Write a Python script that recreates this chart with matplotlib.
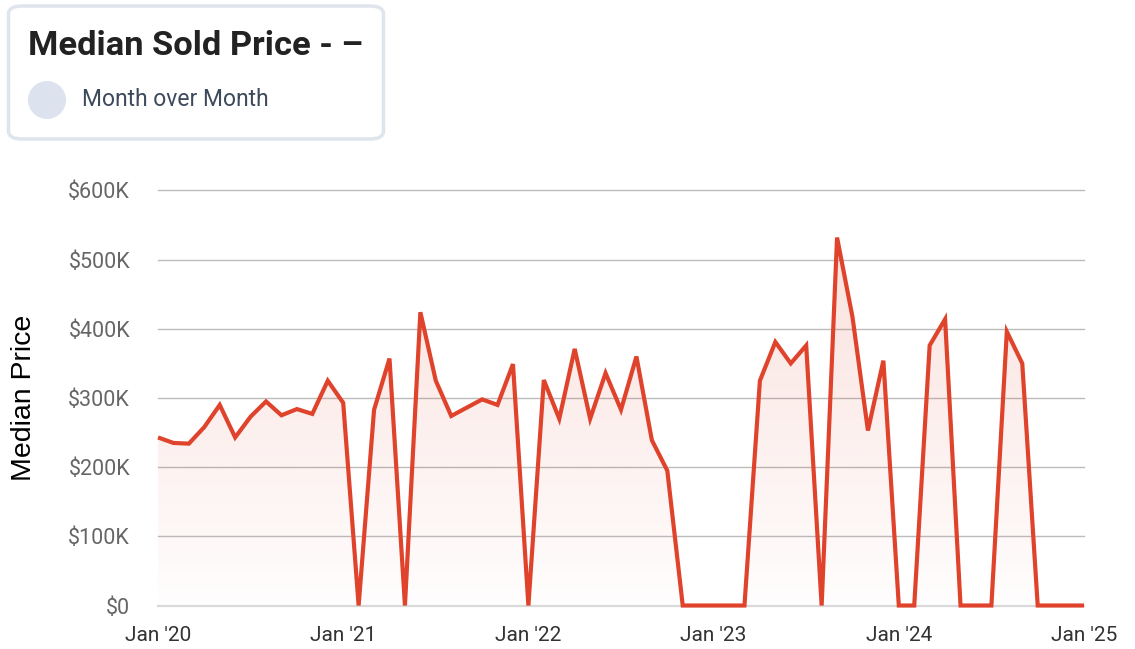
import matplotlib
matplotlib.use("Agg")
import numpy as np
import matplotlib.pyplot as plt
from matplotlib.patches import FancyBboxPatch, Circle

# monthly median sold price, Jan 2020 .. Jan 2025 (thousands of $)
prices = [243, 235, 234, 258, 290, 243, 273, 295, 275, 284, 277, 325,
          293, 0, 283, 357, 0, 424, 325, 274, 286, 298, 290, 349,
          0, 326, 270, 371, 270, 336, 283, 360, 239, 195, 0, 0,
          0, 0, 0, 325, 381, 350, 376, 0, 532, 417, 253, 354,
          0, 0, 376, 414, 0, 0, 0, 396, 350, 0, 0, 0,
          0]
tick_labels = ["Jan '20", "Jan '21", "Jan '22", "Jan '23", "Jan '24", "Jan '25"]
y_ticks = [0, 100, 200, 300, 400, 500, 600]

LINE = "#e0432b"
W, H = 1135, 649
fig = plt.figure(figsize=(W / 100, H / 100), dpi=100)
fig.patch.set_facecolor("white")

x = np.arange(len(prices))
y = np.array(prices, dtype=float)

ax = fig.add_axes([158 / W, 1 - 605.5 / H, (1084 - 158) / W, (605.5 - 190.5) / H])
ax.set_xlim(0, len(prices) - 1)
ax.set_ylim(0, 600)

# gradient fill under the line
poly = ax.fill_between(x, y, 0, color="none", lw=0)
grad = np.linspace(0, 1, 256).reshape(-1, 1)
rgba = np.zeros((256, 1, 4))
rgba[..., 0], rgba[..., 1], rgba[..., 2] = 224 / 255, 67 / 255, 43 / 255
rgba[..., 3] = 0.01 + 0.15 * grad
img = ax.imshow(rgba, extent=[0, len(prices) - 1, 0, max(prices)], origin="lower",
                aspect="auto", zorder=1)
img.set_clip_path(poly.get_paths()[0], transform=ax.transData)

ax.plot(x, y, color=LINE, lw=3.0, zorder=3, solid_joinstyle="miter",
        solid_capstyle="butt", clip_on=False)

for v in y_ticks[1:]:
    ax.axhline(v, color="#bcbcbc", lw=1.0, zorder=0, clip_on=False)
ax.axhline(0, color="#d9d9d9", lw=1.6, zorder=2, clip_on=False)

for s in ax.spines.values():
    s.set_visible(False)
ax.set_yticks(y_ticks)
ax.set_yticklabels(["$0"] + [f"${v}K" for v in y_ticks[1:]], fontsize=15.5,
                   color="#666666", family="Roboto")
ax.set_xticks(np.arange(0, len(prices), 12))
ax.set_xticklabels(tick_labels, fontsize=15, color="#333333", family="Roboto")
ax.tick_params(axis="y", length=0, pad=20)
ax.tick_params(axis="x", length=0, pad=15)
ax.set_ylabel("Median Price", fontsize=20.5, family="Liberation Sans", color="black")
ax.yaxis.set_label_coords(-0.131, 0.5)

# legend card
card = FancyBboxPatch((8.5 / W, 1 - 139 / H), (383.5 - 8.5) / W, (139 - 6) / H,
                      boxstyle="round,pad=0,rounding_size=0.012", transform=fig.transFigure,
                      facecolor="white", edgecolor="#dfe5ed", lw=2.5)
fig.patches.append(card)
fig.text(28 / W, 1 - 46 / H, "Median Sold Price - \u2013", fontsize=24.8, fontweight="bold",
         color="#222222", family="Roboto", va="center")
circ = Circle((47 / 100, (H - 100) / 100), 0.19, transform=fig.dpi_scale_trans,
              facecolor="#dde3ee", edgecolor="none")
fig.patches.append(circ)
fig.text(82 / W, 1 - 100 / H, "Month over Month", fontsize=16.5, color="#3d4a5c",
         family="Roboto", va="center")

fig.savefig("out.png", dpi=100)
